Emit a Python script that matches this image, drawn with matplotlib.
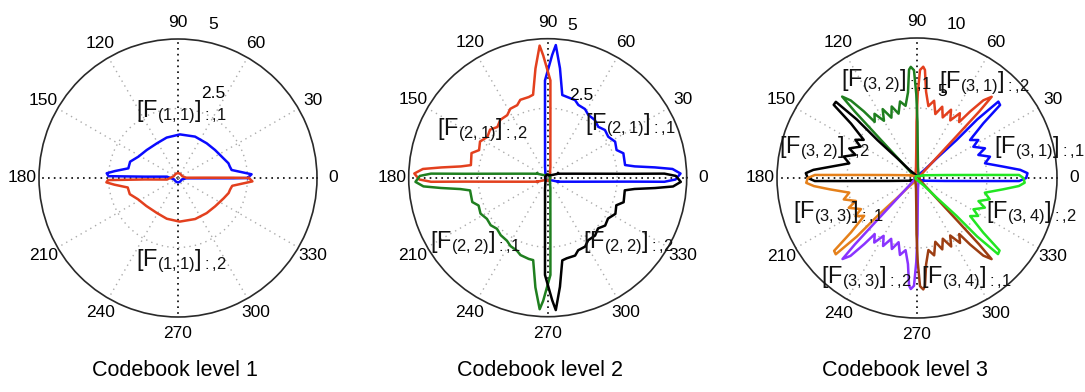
import numpy as np
import matplotlib
matplotlib.use('Agg')
import matplotlib.pyplot as plt

plt.rcParams['font.family'] = ['Liberation Sans', 'DejaVu Sans']
plt.rcParams['mathtext.fontset'] = 'custom'
plt.rcParams['mathtext.rm'] = 'Liberation Sans'
plt.rcParams['mathtext.it'] = 'Liberation Sans:italic'

# ---- data: angle (deg), magnitude ----
# codebook level 1
p1_blue_theta = [0, 2.9, 8.5, 12.3, 16.3, 23.5, 37.1, 50.4, 67.6, 87.4, 105.7, 121.5, 138.2, 151.8, 161.2,
                 169, 173.7, 176.2, 178.5, 177.7, 173, 200, 240, 270, 300, 340, 358, 359.4, 359.7, 360]
p1_blue_r = [2.5, 2.65, 1.95, 1.91, 1.89, 1.78, 1.67, 1.62, 1.61, 1.57, 1.51, 1.46, 1.51, 1.62, 1.82,
             1.82, 2.28, 2.57, 2.5, 1.2, 0.4, 0.15, 0.15, 0.16, 0.15, 0.15, 0.3, 1.0, 2.0, 2.5]
p1_red_theta = [0, -2.6, -8.2, -12.5, -16.5, -23.8, -37.4, -50.8, -67.3, -87.8, -105.4, -121.2, -138.5, -152,
                -161.5, -169.3, -174, -176.5, -178.3, -177.5, -172, -200, -240, -270, -300, -340, -358, -359.3,
                -359.7, -360]
p1_red_r = [2.55, 2.68, 1.97, 1.92, 1.9, 1.8, 1.68, 1.63, 1.6, 1.57, 1.52, 1.47, 1.52, 1.63,
            1.83, 1.84, 2.3, 2.58, 2.52, 1.2, 0.4, 0.17, 0.17, 0.18, 0.17, 0.17, 0.3, 1.0,
            2.0, 2.55]

# codebook level 2
p2_blue_theta = [-21, -8.3, -4.1, -2.7, -2.0, -0.8, 1.8, 4.0, 5.5, 7.4, 9.3, 17.9, 21.9, 28.1, 34.1, 39.8,
                 45.2, 50.7, 57.1, 61.5, 67.2, 70.6, 76.8, 80.0, 83.6, 86.5, 87.9, 91.6, 92.8, 95.5, 104,
                 130, 200, 260, 300, 330, 339]
p2_blue_r = [0.4, 1.0, 2.0, 3.0, 4.2, 4.6, 4.78, 4.5, 3.87, 3.16, 2.82, 2.86, 2.67, 2.75, 2.63, 2.68,
             2.58, 2.68, 2.69, 2.81, 2.84, 2.96, 2.99, 3.02, 3.96, 4.78, 4.42, 3.5, 2.0, 1.0, 0.4,
             0.12, 0.1, 0.12, 0.1, 0.2, 0.4]
p2_red_theta = [201, 188.3, 184.1, 182.7, 182.0, 180.8, 178.2, 176.0, 174.5, 172.6, 170.7, 162.1, 158.1,
                151.9, 145.9, 140.2, 134.8, 129.3, 122.9, 118.5, 112.8, 109.4, 103.2, 100.0, 96.4, 93.5,
                92.1, 88.4, 87.2, 84.5, 76, 50, -20, -80, -120, -150, -159]
p2_red_r = [0.4, 1.0, 2.0, 3.0, 4.2, 4.62, 4.8, 4.5, 3.85, 3.15, 2.8, 2.88, 2.66,
            2.76, 2.62, 2.7, 2.57, 2.69, 2.68, 2.82, 2.83, 2.97, 2.98, 3.03, 3.95, 4.76,
            4.4, 3.5, 2.0, 1.0, 0.4, 0.12, 0.1, 0.12, 0.1, 0.2, 0.4]
p2_green_theta = [159, 171.7, 175.9, 177.3, 178.0, 179.2, 181.8, 184.0, 185.5, 187.4, 189.3, 197.9, 201.9,
                  208.1, 214.1, 219.8, 225.2, 230.7, 237.1, 241.5, 247.2, 250.6, 256.8, 260.0, 263.6,
                  266.5, 267.9, 271.6, 272.8, 275.5, 284, 310, 380, 440, 480, 510, 519]
p2_green_r = [0.4, 1.0, 2.0, 3.0, 4.2, 4.6, 4.76, 4.48, 3.86, 3.17, 2.83, 2.85, 2.68,
              2.74, 2.64, 2.67, 2.59, 2.67, 2.7, 2.8, 2.85, 2.95, 3.0, 3.01, 3.97,
              4.74, 4.43, 3.5, 2.0, 1.0, 0.4, 0.12, 0.1, 0.12, 0.1, 0.2, 0.4]
p2_black_theta = [21, 8.3, 4.1, 2.7, 2.0, 0.8, -1.8, -4.0, -5.5, -7.4, -9.3, -17.9, -21.9, -28.1, -34.1,
                  -39.8, -45.2, -50.7, -57.1, -61.5, -67.2, -70.6, -76.8, -80.0, -83.6, -86.5, -87.9,
                  -91.6, -92.8, -95.5, -104, -130, -200, -260, -300, -330, -339]
p2_black_r = [0.4, 1.0, 2.0, 3.0, 4.2, 4.61, 4.79, 4.52, 3.88, 3.15, 2.81, 2.87, 2.66, 2.76, 2.62,
              2.69, 2.57, 2.69, 2.68, 2.82, 2.83, 2.97, 2.98, 3.02, 3.95, 4.77, 4.41,
              3.5, 2.0, 1.0, 0.4, 0.12, 0.1, 0.12, 0.1, 0.2, 0.4]

# codebook level 3
p3_blue_theta = [-23, -6.1, -2.5, -1.7, 0, 2.5, 4.5, 7.5, 12.2, 16.3, 20.6, 23.6, 29, 31.8, 35.6, 39.5,
                 41.3, 43.2, 44.2, 43.8, 45, 47, 60, 150, 240, 320, 337]
p3_blue_r = [0.5, 2.0, 5.0, 7.3, 7.8, 7.9, 7.4, 6.22, 4.97, 5.43, 4.68, 5.3, 4.6, 5.15, 4.66, 6.14,
             7.9, 7.97, 6.0, 3.9, 2.0, 0.8, 0.3, 0.12, 0.15, 0.2, 0.5]
p3_red_theta = [30, 44, 46, 46.6, 46.9, 47.4, 49.5, 51.4, 53, 56.5, 60, 63.5, 67, 70.5, 74, 77.5, 81, 84,
                85.8, 86.8, 88.4, 89.5, 90.5, 91.5, 95, 110, 160, 250, 340, 390]
p3_red_r = [0.2, 0.8, 2.0, 4.0, 6.5, 7.88, 7.3, 6.06, 5.0, 5.55, 4.75, 5.45, 4.7, 5.4, 4.75, 5.65, 5.2, 6.2,
            7.74, 7.96, 7.72, 6.0, 4.0, 2.0, 0.8, 0.3, 0.15, 0.12, 0.15, 0.2]
p3_green_theta = [150, 136, 134, 133.4, 133.1, 132.6, 130.5, 128.6, 127, 123.5, 120, 116.5, 113, 109.5, 106,
                  102.5, 99, 96, 94.2, 93.2, 91.6, 90.5, 89.5, 88.5, 85, 70, 20, -70, -160, -210]
p3_green_r = [0.2, 0.8, 2.0, 4.0, 6.5, 7.9, 7.28, 6.1, 5.02, 5.5, 4.72, 5.5, 4.68, 5.42, 4.78,
              5.6, 5.22, 6.15, 7.76, 7.95, 7.7, 6.0, 4.0, 2.0, 0.8, 0.3, 0.15, 0.12, 0.15, 0.2]
p3_black_theta = [203, 186.1, 182.5, 181.7, 180, 177.5, 175.5, 172.5, 167.8, 163.7, 159.4, 156.4, 151, 148.2,
                  144.4, 140.5, 138.7, 136.8, 135.8, 136.2, 135, 133, 120, 30, -60, -140, -157]
p3_black_r = [0.5, 2.0, 5.0, 7.3, 7.8, 7.95, 7.42, 6.2, 4.95, 5.46, 4.7, 5.28, 4.62, 5.18,
              4.68, 6.1, 7.92, 7.95, 6.0, 3.9, 2.0, 0.8, 0.3, 0.12, 0.15, 0.2, 0.5]
p3_orange_theta = [157, 173.9, 177.5, 178.3, 180, 182.5, 184.5, 187.5, 192.2, 196.3, 200.6, 203.6, 209, 211.8,
                   215.6, 219.5, 221.3, 223.2, 224.2, 223.8, 225, 227, 240, 330, 420, 500, 517]
p3_orange_r = [0.5, 2.0, 5.0, 7.3, 7.8, 7.92, 7.38, 6.25, 4.95, 5.45, 4.66, 5.32, 4.58, 5.17,
               4.64, 6.12, 7.88, 7.96, 6.0, 3.9, 2.0, 0.8, 0.3, 0.12, 0.15, 0.2, 0.5]
p3_purple_theta = [210, 224, 226, 226.6, 226.9, 227.4, 229.5, 231.4, 233, 236.5, 240, 243.5, 247, 250.5, 254,
                   257.5, 261, 264, 265.8, 266.8, 268.4, 269.5, 270.5, 271.5, 275, 290, 340, 430, 520, 570]
p3_purple_r = [0.2, 0.8, 2.0, 4.0, 6.5, 7.86, 7.32, 6.04, 5.02, 5.53, 4.77, 5.43, 4.72, 5.38, 4.77,
               5.63, 5.22, 6.18, 7.72, 7.94, 7.7, 6.0, 4.0, 2.0, 0.8, 0.3, 0.15, 0.12, 0.15, 0.2]
p3_brown_theta = [-30, -44, -46, -46.6, -46.9, -47.4, -49.5, -51.4, -53, -56.5, -60, -63.5, -67, -70.5, -74,
                  -77.5, -81, -84, -85.8, -86.8, -88.4, -89.5, -90.5, -91.5, -95, -110, -160, -250, -340, -390]
p3_brown_r = [0.2, 0.8, 2.0, 4.0, 6.5, 7.87, 7.29, 6.08, 5.01, 5.57, 4.74, 5.47, 4.71, 5.41, 4.74,
              5.66, 5.21, 6.21, 7.75, 7.97, 7.73, 6.0, 4.0, 2.0, 0.8, 0.3, 0.15, 0.12, 0.15, 0.2]
p3_lime_theta = [23, 6.1, 2.5, 1.7, 0, -2.5, -4.5, -7.5, -12.2, -16.3, -20.6, -23.6, -29, -31.8, -35.6, -39.5,
                 -41.3, -43.2, -44.2, -43.8, -45, -47, -60, -150, -240, -320, -337]
p3_lime_r = [0.5, 2.0, 5.0, 7.3, 7.6, 7.7, 7.3, 6.2, 4.96, 5.41, 4.69, 5.29, 4.61, 5.14, 4.67, 6.13,
             7.85, 7.94, 6.0, 3.9, 2.0, 0.8, 0.3, 0.12, 0.15, 0.2, 0.5]

# curve labels: (sub index, column), label position (deg, radius)
p1_labels = [('1,1', '1', 87.4, 2.37), ('1,1', '2', -88, 2.99)]
p2_labels = [('2,1', '1', 32.6, 3.51), ('2,1', '2', 143.8, 2.9),
             ('2,2', '1', 221.9, 3.51), ('2,2', '2', -39.1, 3.72)]
p3_labels = [('3,1', '1', 13.8, 8.97), ('3,1', '2', 54.8, 8.3), ('3,2', '1', 107.7, 7.27),
             ('3,2', '2', 162.1, 6.98), ('3,3', '1', 203.9, 6.17), ('3,3', '2', 243.0, 8.02),
             ('3,4', '1', -63.9, 7.95), ('3,4', '2', -17.1, 8.52)]

titles = ['Codebook level 1', 'Codebook level 2', 'Codebook level 3']

BLUE = '#0a0aff'
RED = '#e3401e'
DGREEN = '#1f7f1f'
BLACK = '#000000'
ORANGE = '#e5801a'
PURPLE = '#8a33ff'
BROWN = '#9c3d12'
LIME = '#22e622'

W, H = 1085, 392
fig = plt.figure(figsize=(W / 100, H / 100), dpi=100)


def make_polar(cx, cy, rad, rmax, ring, ring_lbl, max_lbl):
    ax = fig.add_axes([(cx - rad) / W, (H - cy - rad) / H, 2 * rad / W, 2 * rad / H],
                      projection='polar')
    ax.set_ylim(0, rmax)
    angles = list(range(0, 360, 30))
    ax.set_xticks(np.deg2rad(angles))
    ax.set_xticklabels([])
    ax.set_yticks([ring])
    ax.set_yticklabels([])
    ax.grid(True, color='#ababab', linestyle=(0, (1, 3)), linewidth=1.0)
    for tick, a in zip(ax.xaxis.get_major_ticks(), angles):
        if a % 90 == 0:
            tick.gridline.set_color('black')
            tick.gridline.set_linestyle((0, (1, 2.5)))
            tick.gridline.set_linewidth(1.2)
    ax.spines['polar'].set_color('#2a2a2a')
    ax.spines['polar'].set_linewidth(1.2)
    for a in angles:
        ax.text(np.deg2rad(a), 1.12 * rmax, str(a), ha='center', va='center', fontsize=12.5)
    ax.text(np.deg2rad(ring_lbl[0]), ring_lbl[1], ring_lbl[2], ha='center', va='center', fontsize=12.5)
    ax.text(np.deg2rad(max_lbl[0]), max_lbl[1], max_lbl[2], ha='center', va='center', fontsize=12.5)
    return ax


def add_labels(ax, labels):
    for sub, col, a, r in labels:
        ax.text(np.deg2rad(a), r, r'$[\mathrm{F}_{(%s)}]_{{:}{,}%s}$' % (sub, col),
                ha='center', va='center', fontsize=17, color='#111111')


ax1 = make_polar(178, 178, 139, 5, 2.5, (67.4, 3.3, '2.5'), (77, 5.65, '5'))
ax1.plot(np.deg2rad(p1_blue_theta), p1_blue_r, color=BLUE, lw=1.8)
ax1.plot(np.deg2rad(p1_red_theta), p1_red_r, color=RED, lw=1.8)
add_labels(ax1, p1_labels)

ax2 = make_polar(547.7, 177.7, 139, 5, 2.5, (67.6, 3.2, '2.5'), (81, 5.56, '5'))
ax2.plot(np.deg2rad(p2_blue_theta), p2_blue_r, color=BLUE, lw=1.8)
ax2.plot(np.deg2rad(p2_red_theta), p2_red_r, color=RED, lw=1.8)
ax2.plot(np.deg2rad(p2_green_theta), p2_green_r, color=DGREEN, lw=1.8)
ax2.plot(np.deg2rad(p2_black_theta), p2_black_r, color=BLACK, lw=1.8)
add_labels(ax2, p2_labels)

ax3 = make_polar(917, 178, 140, 10, 5, (74, 6.4, '5'), (75.5, 11.3, '10'))
for th, rr, c in [(p3_blue_theta, p3_blue_r, BLUE), (p3_red_theta, p3_red_r, RED),
                  (p3_green_theta, p3_green_r, DGREEN), (p3_black_theta, p3_black_r, BLACK),
                  (p3_orange_theta, p3_orange_r, ORANGE), (p3_purple_theta, p3_purple_r, PURPLE),
                  (p3_brown_theta, p3_brown_r, BROWN), (p3_lime_theta, p3_lime_r, LIME)]:
    ax3.plot(np.deg2rad(th), rr, color=c, lw=1.8)
add_labels(ax3, p3_labels)

for t, x in zip(titles, [175, 540, 905]):
    fig.text(x / W, 1 - 370 / H, t, ha='center', va='center', fontsize=15.5)

fig.savefig('out.png', dpi=100)
